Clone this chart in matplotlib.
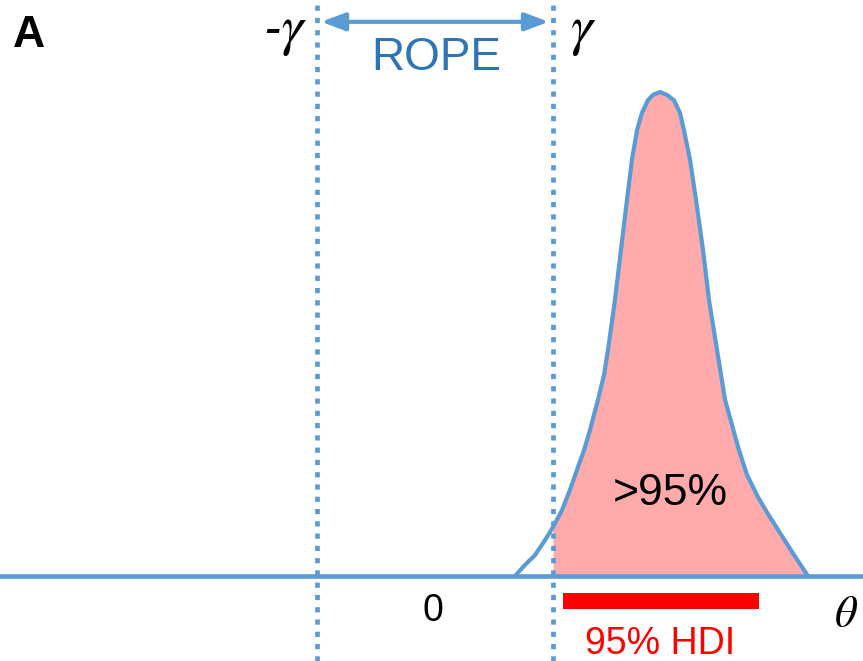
import numpy as np
import matplotlib
matplotlib.use("Agg")
import matplotlib.pyplot as plt

# ---- data (theta units: 0 at centre, gamma = 1; density normalised to peak = 1)
curve_theta = [0.678, 0.763, 0.847, 0.932, 1.000, 1.076, 1.144, 1.203, 1.263,
               1.314, 1.381, 1.432, 1.466, 1.525, 1.576, 1.627, 1.669, 1.712,
               1.754, 1.805, 1.847, 1.907,
               1.966, 2.025, 2.076, 2.110, 2.161, 2.212, 2.271, 2.322, 2.390,
               2.458, 2.517, 2.576, 2.644, 2.737, 2.822, 2.924, 3.025, 3.093,
               3.161]
curve_density = [0.000, 0.023, 0.043, 0.074, 0.101, 0.136, 0.178, 0.219, 0.260,
                 0.302, 0.364, 0.415, 0.467, 0.570, 0.674, 0.777, 0.860, 0.921,
                 0.957, 0.983, 0.994, 1.000,
                 0.994, 0.983, 0.957, 0.921, 0.860, 0.777, 0.674, 0.570, 0.467,
                 0.364, 0.312, 0.260, 0.209, 0.163, 0.128, 0.089, 0.050, 0.025,
                 0.000]
rope = [-1.0, 1.0]          # -gamma, gamma
hdi = [1.085, 2.746]        # 95% HDI limits
zero_label = "0"

BLUE = "#5B9BD5"
DARKBLUE = "#2E75B6"
PINK = "#FFABAB"

x = np.array(curve_theta)
y = np.array(curve_density)

fig = plt.figure(figsize=(8.63, 6.61), dpi=100)
ax = fig.add_axes([0, 0, 1, 1])
ax.set_xlim(-435 / 118, (863 - 435) / 118)
ax.set_ylim(-85 / 484, 576 / 484)
ax.axis("off")

sans = "Liberation Sans"

# shaded region beyond gamma
mask = x >= rope[1]
ax.fill_between(x[mask], 0, y[mask], color=PINK, lw=0, zorder=1)

# dotted ROPE limits
for r in rope:
    ax.axvline(r, color=BLUE, lw=3.4, linestyle=(0, (1.1, 1.5)),
               dash_capstyle="butt", zorder=2)

# baseline and curve
ax.axhline(0, color=BLUE, lw=3.3, zorder=3)
ax.plot(x, y, color=BLUE, lw=3.0, zorder=4, solid_joinstyle="round",
        solid_capstyle="round")

# ROPE arrow
ax.annotate("", xy=(rope[1], 1.145), xytext=(rope[0], 1.145),
            arrowprops=dict(arrowstyle="<|-|>,head_length=0.4,head_width=0.15",
                            mutation_scale=36, color=BLUE, lw=3,
                            shrinkA=3, shrinkB=3))
ax.text(0.008, 1.045, "ROPE", ha="center", va="baseline", fontsize=33,
        color=DARKBLUE, family=sans)

# gamma labels
ax.text(-1.28, 1.128, "-γ", ha="center", va="center", fontsize=40,
        family="STIXGeneral", style="italic")
ax.text(1.25, 1.128, "γ", ha="center", va="center", fontsize=40,
        family="STIXGeneral", style="italic")

# panel label
ax.text(-3.441, 1.093, "A", ha="center", va="baseline", fontsize=32,
        fontweight="bold", family=sans)

# percentage label
ax.text(1.99, 0.1467, ">95%", ha="center", va="baseline", fontsize=32,
        family=sans)

# zero tick label
ax.text(-0.017, -0.093, zero_label, ha="center", va="baseline", fontsize=27,
        family=sans)

# theta axis label
ax.text(3.475, -0.105, "θ", ha="center", va="baseline", fontsize=32,
        family="STIXGeneral", style="italic")

# HDI bar
ax.barh(-0.0517, hdi[1] - hdi[0], left=hdi[0], height=0.033, color="#FF0000",
        lw=0, zorder=3)
ax.text((hdi[0] + hdi[1]) / 2 - 0.01, -0.161, "95% HDI", ha="center",
        va="baseline", fontsize=27, color="#FF0000", family=sans)

fig.savefig("out.png", dpi=100)
